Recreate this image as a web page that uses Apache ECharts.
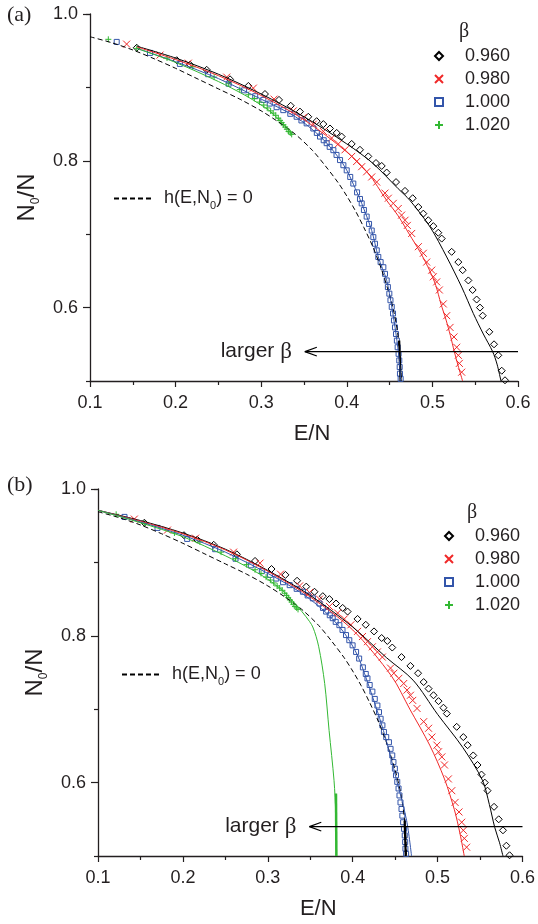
<!DOCTYPE html>
<html>
<head>
<meta charset="utf-8">
<script src="https://cdn.jsdelivr.net/npm/echarts@6/dist/echarts.min.js"></script>
<style>
  html, body { margin: 0; padding: 0; background: #fff; }
  #chart { width: 538px; height: 924px; }
</style>
</head>
<body>
<div id="chart"></div>
<script>
const SANS = 'Liberation Sans';
const SERIF = 'Liberation Serif';
const INK = '#231f20';

const betaNames = ['0.960', '0.980', '1.000', '1.020'];
const betaColors = ['#000000', '#f02828', '#3355aa', '#33b833'];
const xTicks = [0.1, 0.2, 0.3, 0.4, 0.5, 0.6];
const yLabelTicks = [0.6, 0.8, 1.0];

// h(E,N0) = 0 curve, same in both panels
const hCurve = [
  [0.100, 0.969], [0.125, 0.961], [0.150, 0.951], [0.175, 0.939], [0.200, 0.926],
  [0.225, 0.912], [0.250, 0.898], [0.275, 0.884], [0.300, 0.868], [0.320, 0.853],
  [0.340, 0.836], [0.360, 0.814], [0.375, 0.793], [0.390, 0.770], [0.400, 0.752],
  [0.410, 0.732], [0.420, 0.709], [0.430, 0.684], [0.440, 0.654], [0.450, 0.617],
  [0.455, 0.594], [0.459, 0.569], [0.4615, 0.543], [0.463, 0.517], [0.4635, 0.500]
];

// simulation points (markers), same in both panels
const pts096 = [
  [0.1546, 0.954], [0.2013, 0.937], [0.2168, 0.931], [0.2363, 0.924], [0.2636, 0.911],
  [0.285, 0.902], [0.3044, 0.891], [0.3208, 0.883], [0.3345, 0.875], [0.3453, 0.867],
  [0.355, 0.860], [0.3648, 0.854], [0.3726, 0.850], [0.3804, 0.844], [0.3882, 0.838],
  [0.394, 0.833], [0.4057, 0.823], [0.4154, 0.815], [0.4251, 0.806], [0.4341, 0.797],
  [0.4408, 0.793], [0.4466, 0.784], [0.4575, 0.771], [0.468, 0.759], [0.477, 0.749],
  [0.4836, 0.737], [0.4894, 0.728], [0.4952, 0.719], [0.5011, 0.711], [0.5069, 0.702],
  [0.5109, 0.694], [0.5225, 0.676], [0.5303, 0.662], [0.5354, 0.651], [0.542, 0.637],
  [0.547, 0.624], [0.5517, 0.611], [0.5556, 0.600], [0.5588, 0.589], [0.5665, 0.567],
  [0.572, 0.550], [0.577, 0.535], [0.581, 0.514], [0.5848, 0.501]
];
const pts098 = [
  [0.1428, 0.959], [0.1818, 0.944], [0.2149, 0.933], [0.2597, 0.914], [0.2908, 0.899],
  [0.315, 0.884], [0.3375, 0.868], [0.3492, 0.859], [0.3609, 0.850], [0.3726, 0.840],
  [0.3823, 0.831], [0.3901, 0.823], [0.3979, 0.815], [0.4057, 0.806], [0.4115, 0.799],
  [0.4174, 0.792], [0.4232, 0.785], [0.4291, 0.778], [0.4349, 0.771], [0.4446, 0.756],
  [0.4485, 0.749], [0.4543, 0.742], [0.4601, 0.735], [0.464, 0.726], [0.468, 0.719],
  [0.4707, 0.712], [0.4758, 0.701], [0.4836, 0.683], [0.4894, 0.674], [0.4933, 0.662],
  [0.4992, 0.651], [0.5011, 0.642], [0.505, 0.635], [0.5081, 0.624], [0.5127, 0.605],
  [0.5167, 0.589], [0.5206, 0.573], [0.5252, 0.560], [0.5284, 0.546], [0.5303, 0.535],
  [0.5315, 0.524], [0.5342, 0.512]
];
const pts100 = [
  [0.1312, 0.962], [0.1701, 0.947], [0.205, 0.932], [0.238, 0.918], [0.262, 0.905],
  [0.280, 0.896], [0.293, 0.888], [0.3025, 0.883], [0.310, 0.878], [0.318, 0.873],
  [0.3258, 0.869], [0.334, 0.864], [0.3414, 0.860], [0.347, 0.855], [0.3531, 0.851],
  [0.3609, 0.844], [0.365, 0.838], [0.3687, 0.833], [0.373, 0.828], [0.3765, 0.824],
  [0.380, 0.819], [0.3843, 0.8145], [0.388, 0.808], [0.3921, 0.801], [0.396, 0.794],
  [0.3999, 0.787], [0.404, 0.778], [0.4076, 0.769], [0.412, 0.757], [0.4154, 0.748],
  [0.4174, 0.742], [0.420, 0.733], [0.4232, 0.724], [0.426, 0.714], [0.4291, 0.705],
  [0.431, 0.696], [0.4329, 0.687], [0.435, 0.678], [0.4368, 0.669], [0.4395, 0.662],
  [0.4427, 0.655], [0.4446, 0.646], [0.4466, 0.637], [0.448, 0.628], [0.4497, 0.619],
  [0.451, 0.610], [0.4525, 0.601], [0.454, 0.592], [0.4551, 0.5825], [0.4563, 0.573],
  [0.4575, 0.564], [0.4585, 0.555], [0.4594, 0.546], [0.4605, 0.537], [0.4613, 0.528],
  [0.4618, 0.519], [0.4621, 0.510], [0.4629, 0.503]
];
const pts102 = [
  [0.1214, 0.9655], [0.1546, 0.9532], [0.19, 0.940], [0.22, 0.928], [0.245, 0.914],
  [0.262, 0.905], [0.275, 0.897], [0.285, 0.890], [0.292, 0.885], [0.298, 0.880],
  [0.303, 0.876], [0.307, 0.872], [0.311, 0.868], [0.314, 0.865], [0.317, 0.862],
  [0.320, 0.858], [0.322, 0.855], [0.324, 0.852], [0.326, 0.849], [0.328, 0.846],
  [0.330, 0.843], [0.332, 0.840], [0.334, 0.838], [0.3356, 0.836]
];

// fitted curves, panel (a)
const lineA096 = [
  [0.155, 0.956], [0.2, 0.940], [0.25, 0.918], [0.3, 0.891], [0.35, 0.860], [0.40, 0.823],
  [0.43, 0.797], [0.46, 0.762], [0.4738, 0.746], [0.4972, 0.710], [0.5167, 0.669],
  [0.5342, 0.628], [0.5478, 0.592], [0.5595, 0.564], [0.5704, 0.540], [0.5755, 0.523], [0.5801, 0.500]
];
const lineA098 = [
  [0.155, 0.955], [0.2, 0.938], [0.25, 0.916], [0.3, 0.889], [0.35, 0.856], [0.40, 0.812],
  [0.425, 0.783], [0.4466, 0.746], [0.46, 0.725], [0.473, 0.700], [0.486, 0.675], [0.497, 0.650],
  [0.504, 0.630], [0.510, 0.605], [0.516, 0.583], [0.521, 0.562], [0.5256, 0.540], [0.530, 0.521], [0.5353, 0.500]
];
const lineA100 = [
  [0.155, 0.953], [0.2, 0.935], [0.25, 0.912], [0.3, 0.884], [0.34, 0.860], [0.37, 0.832],
  [0.39, 0.805], [0.40, 0.787], [0.41, 0.762], [0.4174, 0.742], [0.4291, 0.705], [0.4368, 0.669],
  [0.4466, 0.637], [0.4525, 0.601], [0.4575, 0.564], [0.4613, 0.528], [0.4629, 0.500]
];
const lineA102 = [
  [0.155, 0.953], [0.2, 0.934], [0.25, 0.908], [0.28, 0.890], [0.30, 0.876], [0.31, 0.868],
  [0.32, 0.857], [0.33, 0.845], [0.336, 0.836]
];
const tailA = [[0.4612, 0.555], [0.4628, 0.500]];

// fitted curves, panel (b)
const lineB096 = [
  [0.1, 0.971], [0.15, 0.957], [0.2, 0.940], [0.25, 0.918], [0.3, 0.889], [0.35, 0.855],
  [0.40, 0.812], [0.44, 0.770], [0.4712, 0.7395], [0.50, 0.693], [0.5296, 0.648], [0.5529, 0.603],
  [0.561, 0.570], [0.5673, 0.539], [0.573, 0.518], [0.577, 0.500]
];
const lineB098 = [
  [0.1, 0.971], [0.15, 0.956], [0.2, 0.939], [0.25, 0.917], [0.3, 0.888], [0.35, 0.853],
  [0.40, 0.808], [0.4458, 0.745], [0.4673, 0.700], [0.4907, 0.651], [0.5081, 0.605],
  [0.5198, 0.563], [0.5265, 0.530], [0.5314, 0.500]
];
const lineB100 = [
  [0.1, 0.971], [0.15, 0.955], [0.2, 0.937], [0.25, 0.914], [0.3, 0.885], [0.34, 0.858],
  [0.37, 0.830], [0.39, 0.804], [0.405, 0.775], [0.4167, 0.7395], [0.4362, 0.671],
  [0.4518, 0.603], [0.4635, 0.5485], [0.4693, 0.500]
];
const lineB102 = [
  [0.1, 0.971], [0.15, 0.954], [0.2, 0.935], [0.25, 0.909], [0.28, 0.891], [0.30, 0.877],
  [0.32, 0.859], [0.335, 0.840], [0.345, 0.826], [0.353, 0.812], [0.36, 0.785], [0.367, 0.735],
  [0.3722, 0.671], [0.378, 0.603], [0.380, 0.557], [0.3805, 0.500]
];
const greenTailB = [[0.3803, 0.585], [0.3808, 0.500]];
const tailB = [[0.4612, 0.548], [0.4625, 0.500]];

// "larger beta" arrow: y, start x, head x
const arrowA = [0.54, 0.6, 0.351];
const arrowB = [0.54, 0.6, 0.349];

const symbols = [
  'diamond',
  'path://M0,0L10,10M10,0L0,10',
  'rect',
  'path://M5,0L5,10M0,5L10,5'
];
const symbolSizes = [7, 7, 5, 6];

const chart = echarts.init(document.getElementById('chart'), null, { renderer: 'canvas' });

function xAxisOf(grid, nameGap) {
  return {
    type: 'value', gridIndex: grid, min: 0.1, max: 0.6, interval: 0.1,
    name: 'E/N', nameLocation: 'middle', nameGap: nameGap,
    nameTextStyle: { fontFamily: SANS, fontSize: 22, color: INK, padding: [0, 0, 0, 16] },
    axisLine: { lineStyle: { color: INK, width: 1.3 } },
    axisTick: { length: 6, lineStyle: { color: INK, width: 1.2 } },
    minorTick: { show: true, splitNumber: 2, length: 4, lineStyle: { color: INK, width: 1.2 } },
    splitLine: { show: false },
    axisLabel: {
      margin: 13, fontFamily: SANS, fontSize: 18, color: INK,
      customValues: xTicks, formatter: v => v.toFixed(1)
    }
  };
}

function yAxesOf(grid) {
  return [{
    type: 'value', gridIndex: grid, min: 0.5, max: 1.0, position: 'left',
    name: 'N{s|0}/N', nameLocation: 'middle', nameGap: 44,
    nameTextStyle: {
      fontFamily: SANS, fontSize: 24, color: INK, lineHeight: 24,
      rich: { s: { fontFamily: SANS, fontSize: 12, lineHeight: 30, verticalAlign: 'bottom', color: INK } }
    },
    axisLine: { lineStyle: { color: INK, width: 1.3 } },
    axisTick: { length: 7, customValues: yLabelTicks, lineStyle: { color: INK, width: 1.2 } },
    splitLine: { show: false },
    axisLabel: {
      margin: 12, fontFamily: SANS, fontSize: 18, color: INK,
      customValues: yLabelTicks, formatter: v => v.toFixed(1)
    }
  }, {
    type: 'value', gridIndex: grid, min: 0.5, max: 1.0, interval: 0.2,
    position: 'left', offset: 0,
    axisLine: { show: false },
    axisTick: { length: 4, lineStyle: { color: INK, width: 1.2 } },
    axisLabel: { show: false },
    splitLine: { show: false }
  }];
}

function panelSeries(xi, yi, lines, hTail, arrow, extra) {
  const out = [];
  betaNames.forEach((nm, i) => {
    out.push({
      type: 'scatter', name: nm, xAxisIndex: xi, yAxisIndex: yi,
      data: [pts096, pts098, pts100, pts102][i],
      symbol: symbols[i], symbolSize: symbolSizes[i],
      itemStyle: { color: 'rgba(0,0,0,0)', borderColor: betaColors[i], borderWidth: 1, opacity: 1 },
      silent: true, z: 2
    });
  });
  out.push({
    type: 'line', name: 'h', xAxisIndex: xi, yAxisIndex: yi, data: hCurve,
    symbol: 'none', smooth: 0.3, itemStyle: { color: 'rgba(0,0,0,0)', borderWidth: 0 },
    lineStyle: { color: '#000', width: 1, type: [5, 3] }, silent: true, z: 3
  });
  out.push({
    type: 'line', xAxisIndex: xi, yAxisIndex: yi, data: hTail,
    symbol: 'none', lineStyle: { color: '#000', width: 2.2 }, silent: true, z: 3
  });
  lines.forEach((d, i) => {
    out.push({
      type: 'line', xAxisIndex: xi, yAxisIndex: yi, data: d,
      symbol: 'none', smooth: 0.3, lineStyle: { color: betaColors[i], width: 1 },
      silent: true, z: 3
    });
  });
  (extra || []).forEach(s => out.push(Object.assign({ xAxisIndex: xi, yAxisIndex: yi }, s)));
  // arrow towards larger beta
  const [ay, x0, x1] = arrow;
  out.push({
    type: 'line', xAxisIndex: xi, yAxisIndex: yi, symbol: 'none', silent: true, z: 4,
    lineStyle: { color: '#000', width: 1.1 },
    data: [[x0, ay], [x1, ay]]
  });
  out.push({
    type: 'line', xAxisIndex: xi, yAxisIndex: yi, symbol: 'none', silent: true, z: 4,
    lineStyle: { color: '#000', width: 1.1 },
    data: [[x1 + 0.014, ay + 0.006], [x1, ay], [x1 + 0.014, ay - 0.006]]
  });
  out.push({
    type: 'scatter', xAxisIndex: xi, yAxisIndex: yi, symbolSize: 0, silent: true, z: 4,
    itemStyle: { opacity: 1 },
    data: [[x1, ay]],
    label: {
      show: true, position: 'left', distance: 13,
      formatter: 'larger {b|β}',
      fontFamily: SANS, fontSize: 21, color: INK,
      rich: { b: { fontFamily: SERIF, fontSize: 23, color: INK } }
    }
  });
  return out;
}

function markerLegend(left, top) {
  return {
    data: betaNames, orient: 'vertical', left: left, top: top, padding: 0,
    itemWidth: 8, itemHeight: 8, itemGap: 3, selectedMode: false,
    textStyle: { fontFamily: SANS, fontSize: 18, lineHeight: 20, color: INK, padding: [0, 0, 0, 17] }
  };
}

function hLegend(left, top) {
  return {
    data: ['h'], left: left, top: top, padding: 0, itemWidth: 40, itemHeight: 10,
    selectedMode: false,
    formatter: () => 'h(E,N{s|0}) = 0',
    textStyle: {
      fontFamily: SANS, fontSize: 18, lineHeight: 20, color: INK, padding: [0, 0, 0, 5],
      rich: { s: { fontFamily: SANS, fontSize: 11, lineHeight: 25, verticalAlign: 'bottom', color: INK } }
    }
  };
}

const option = {
  animation: false,
  backgroundColor: '#fff',
  grid: [
    { left: 90, top: 14, width: 428, height: 367 },
    { left: 98, top: 489, width: 429, height: 367 }
  ],
  xAxis: [xAxisOf(0, 42), xAxisOf(1, 42)],
  yAxis: yAxesOf(0).concat(yAxesOf(1)),
  legend: [markerLegend(434, 46), hLegend(113, 186), markerLegend(444, 526), hLegend(121, 662)],
  graphic: [
    { type: 'text', left: 7, top: 4, style: { text: '(a)', fontFamily: SERIF, fontSize: 22, fill: INK } },
    { type: 'text', left: 7, top: 474, style: { text: '(b)', fontFamily: SERIF, fontSize: 22, fill: INK } },
    { type: 'text', left: 459, top: 22, style: { text: 'β', fontFamily: SERIF, fontSize: 20, fill: INK } },
    { type: 'text', left: 467, top: 503, style: { text: 'β', fontFamily: SERIF, fontSize: 20, fill: INK } }
  ],
  series: panelSeries(0, 0, [lineA096, lineA098, lineA100, lineA102], tailA, arrowA)
    .concat(panelSeries(1, 2, [lineB096, lineB098, lineB100, lineB102], tailB, arrowB, [{
      type: 'line', data: greenTailB, symbol: 'none', silent: true, z: 3,
      lineStyle: { color: betaColors[3], width: 2.5 }
    }]))
};

chart.setOption(option);
</script>
</body>
</html>
